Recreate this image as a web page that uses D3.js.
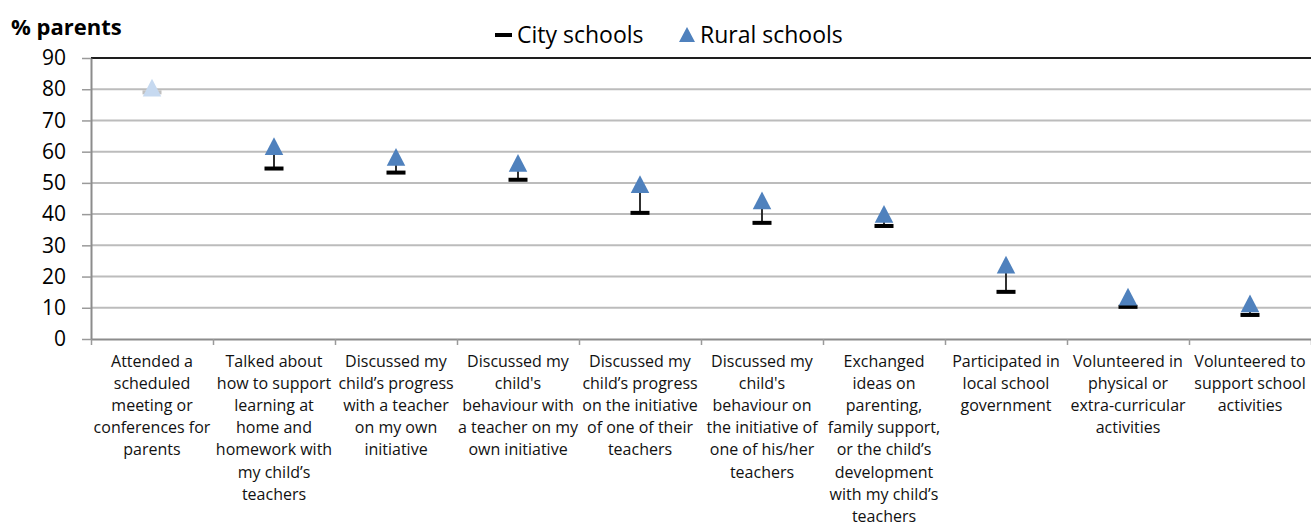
<!DOCTYPE html>
<html>
<head>
<meta charset="utf-8">
<script src="https://cdn.jsdelivr.net/npm/d3@7"></script>
<style>
  body { margin: 0; background: #fff; }
  svg { display: block; font-family: "Open Sans", sans-serif; }
</style>
</head>
<body>
<script>
// categories, line breaks as in the chart
const categories = [
    "Attended a\nscheduled\nmeeting or\nconferences for\nparents",
    "Talked about\nhow to support\nlearning at\nhome and\nhomework with\nmy child’s\nteachers",
    "Discussed my\nchild’s progress\nwith a teacher\non my own\ninitiative",
    "Discussed my\nchild's\nbehaviour with\na teacher on my\nown initiative",
    "Discussed my\nchild’s progress\non the initiative\nof one of their\nteachers",
    "Discussed my\nchild's\nbehaviour on\nthe initiative of\none of his/her\nteachers",
    "Exchanged\nideas on\nparenting,\nfamily support,\nor the child’s\ndevelopment\nwith my child’s\nteachers",
    "Participated in\nlocal school\ngovernment",
    "Volunteered in\nphysical or\nextra-curricular\nactivities",
    "Volunteered to\nsupport school\nactivities"
];
const cityValues = [79, 54.6, 53.3, 51.0, 40.4, 37.2, 36.2, 15.1, 10.3, 7.7];
const ruralValues = [80.5, 61.8, 58.3, 56.4, 49.6, 44.4, 40.1, 23.8, 13.6, 11.4];
const mutedCategories = [0];
const yTicks = [0, 10, 20, 30, 40, 50, 60, 70, 80, 90];

const w = 1311, h = 528;
const plotLeft = 91, plotRight = 1311, plotTop = 58, plotBottom = 339;

const svg = d3.select("body").append("svg").attr("width", w).attr("height", h);
svg.append("rect").attr("width", w).attr("height", h).attr("fill", "#fff");

const xScale = d3.scaleBand().domain(d3.range(categories.length)).range([plotLeft, plotRight]);
const xEdge = d3.scaleLinear().domain([0, categories.length]).range([plotLeft, plotRight]);
const yScale = d3.scaleLinear().domain([0, 90]).range([plotBottom, plotTop]);

// gridlines
svg.append("g").selectAll("line")
    .data(yTicks.filter(d => d > 0))
    .enter().append("line")
    .attr("x1", plotLeft).attr("x2", plotRight)
    .attr("y1", d => yScale(d)).attr("y2", d => yScale(d))
    .attr("stroke", d => d === 90 ? "#1e1e1e" : "#bcbcbc")
    .attr("stroke-width", 2);

// y axis
const yAxis = svg.append("g")
    .attr("transform", "translate(" + plotLeft + ",0)")
    .call(d3.axisLeft(yScale).tickValues(yTicks).tickSize(9).tickPadding(16).tickSizeOuter(0));
yAxis.selectAll("text").attr("font-family", "Open Sans").attr("font-size", 21).attr("fill", "#000");
yAxis.selectAll("line").attr("stroke", "#9a9a9a").attr("stroke-width", 1.5);
yAxis.select(".domain").attr("stroke", "#8c8c8c").attr("stroke-width", 2);

// x axis with boundary ticks
const xAxis = svg.append("g")
    .attr("transform", "translate(0," + plotBottom + ")")
    .call(d3.axisBottom(xEdge).tickValues(d3.range(categories.length + 1)).tickSize(6).tickFormat("").tickSizeOuter(0));
xAxis.selectAll("line").attr("stroke", "#9a9a9a").attr("stroke-width", 1.5);
xAxis.select(".domain").attr("stroke", "#8c8c8c").attr("stroke-width", 2);

// category labels
const labels = svg.append("g").selectAll("text")
    .data(categories)
    .enter().append("text")
    .attr("text-anchor", "middle")
    .attr("font-size", 16)
    .attr("fill", "#111")
    .attr("x", (d, i) => xScale(i) + xScale.bandwidth() / 2)
    .attr("y", 367);
labels.each(function (d, i) {
    const t = d3.select(this);
    d.split("\n").forEach((line, k) => {
        t.append("tspan")
            .attr("x", xScale(i) + xScale.bandwidth() / 2)
            .attr("dy", k === 0 ? 0 : 22.1)
            .text(line);
    });
});

const triW = 18.5, triH = 17.7;
const triangle = function (cx, cy) {
    return "M" + cx + "," + (cy - triH / 2) + "L" + (cx + triW / 2) + "," + (cy + triH / 2) + "L" + (cx - triW / 2) + "," + (cy + triH / 2) + "Z";
};
const cx = i => xScale(i) + xScale.bandwidth() / 2;
const muted = i => mutedCategories.includes(i);

// connector lines
svg.append("g").selectAll("line")
    .data(cityValues)
    .enter().append("line")
    .attr("x1", (d, i) => cx(i)).attr("x2", (d, i) => cx(i))
    .attr("y1", d => yScale(d))
    .attr("y2", (d, i) => yScale(ruralValues[i]))
    .attr("stroke", (d, i) => muted(i) ? "#c8c8c8" : "#1a1a1a")
    .attr("stroke-width", 1.8);

// city dashes
svg.append("g").selectAll("rect")
    .data(cityValues)
    .enter().append("rect")
    .attr("x", (d, i) => cx(i) - 9.5)
    .attr("y", d => yScale(d) - 2)
    .attr("width", 19)
    .attr("height", 4)
    .attr("fill", (d, i) => muted(i) ? "#c0c0c0" : "#000");

// rural triangles
svg.append("g").selectAll("path")
    .data(ruralValues)
    .enter().append("path")
    .attr("d", (d, i) => triangle(cx(i), yScale(d)))
    .attr("fill", (d, i) => muted(i) ? "#c6d9f0" : "#4f81bd");

// y title
svg.append("text")
    .attr("x", 11).attr("y", 35)
    .attr("font-size", 22).attr("font-weight", "bold")
    .text("% parents");

// legend
const legend = svg.append("g").attr("font-size", 23);
legend.append("rect").attr("x", 495).attr("y", 33).attr("width", 17).attr("height", 4).attr("fill", "#000");
legend.append("text").attr("x", 517).attr("y", 43).text("City schools");
legend.append("path").attr("d", "M687,27L695,42L679,42Z").attr("fill", "#4f81bd");
legend.append("text").attr("x", 700).attr("y", 43).text("Rural schools");
</script>
</body>
</html>
